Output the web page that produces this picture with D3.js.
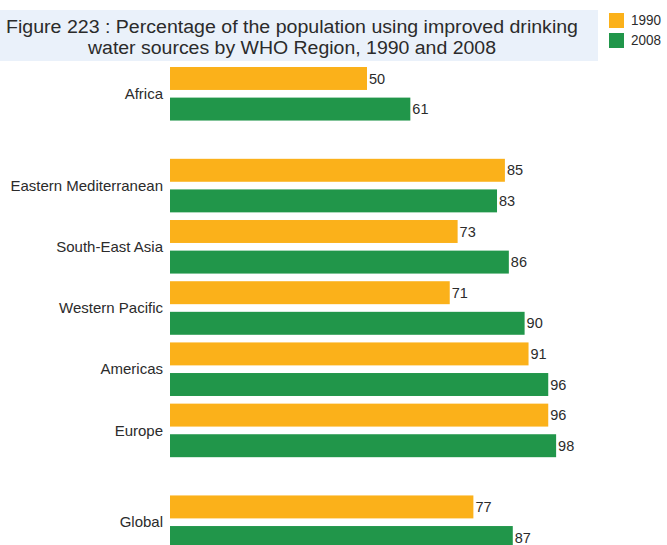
<!DOCTYPE html>
<html>
<head>
<meta charset="utf-8">
<script src="https://cdn.jsdelivr.net/npm/d3@7"></script>
<style>
  html, body { margin: 0; padding: 0; background: #fff; }
  svg { display: block; font-family: "Liberation Sans", Arial, sans-serif; }
</style>
</head>
<body>
<svg id="chart" width="667" height="545"></svg>
<script>
const regions = ["Africa", "Eastern Mediterranean", "South-East Asia", "Western Pacific", "Americas", "Europe", "Global"];
const values1990 = [50, 85, 73, 71, 91, 96, 77];
const values2008 = [61, 83, 86, 90, 96, 98, 87];
const years = ["1990", "2008"];
const titleLines = ["Figure 223 : Percentage of the population using improved drinking", "water sources by WHO Region, 1990 and 2008"];
// a blank slot separates Africa and Global from the other regions
const spacerAfter = ["Africa", "Europe"];

const colors = { "1990": "#FBB11A", "2008": "#21964A" };
const textColor = "#2b2b2b";

const svg = d3.select("#chart");

const slots = [];
regions.forEach(r => {
  slots.push(r + "|1990");
  slots.push(r + "|2008");
  if (spacerAfter.includes(r)) slots.push("spacer|" + r);
});

const data = [];
regions.forEach((r, i) => {
  data.push({ region: r, year: "1990", value: values1990[i] });
  data.push({ region: r, year: "2008", value: values2008[i] });
});

const x = d3.scaleLinear().domain([0, 100]).range([170, 564]);
const y = d3.scaleBand().domain(slots).range([67, 549]).paddingInner(0.25).paddingOuter(0);

// title box
svg.append("rect").attr("x", 0).attr("y", 10).attr("width", 598).attr("height", 51).attr("fill", "#EAF1FA");
svg.append("text").attr("x", 292).attr("y", 32.5).attr("text-anchor", "middle")
  .attr("font-size", 18).attr("fill", textColor)
  .attr("textLength", 572).attr("lengthAdjust", "spacingAndGlyphs")
  .text(titleLines[0]);
svg.append("text").attr("x", 292).attr("y", 53.5).attr("text-anchor", "middle")
  .attr("font-size", 18).attr("fill", textColor)
  .attr("textLength", 408).attr("lengthAdjust", "spacingAndGlyphs")
  .text(titleLines[1]);

// legend
const leg = svg.append("g");
years.forEach((yr, i) => {
  leg.append("rect").attr("x", 609).attr("y", 13 + i * 20).attr("width", 15).attr("height", 15).attr("fill", colors[yr]);
  leg.append("text").attr("x", 631).attr("y", 20.5 + i * 20).attr("dy", "0.35em")
    .attr("font-size", 14).attr("fill", textColor)
    .attr("textLength", 30).attr("lengthAdjust", "spacingAndGlyphs")
    .text(yr);
});

// bars
svg.append("g").selectAll("rect").data(data).join("rect")
  .attr("x", x(0))
  .attr("y", d => y(d.region + "|" + d.year))
  .attr("width", d => x(d.value) - x(0))
  .attr("height", y.bandwidth())
  .attr("fill", d => colors[d.year]);

// value labels
svg.append("g").selectAll("text").data(data).join("text")
  .attr("x", d => x(d.value) + 2)
  .attr("y", d => y(d.region + "|" + d.year) + y.bandwidth() / 2)
  .attr("dy", "0.35em")
  .attr("font-size", 14.5).attr("fill", textColor)
  .text(d => d.value);

// category labels
svg.append("g").selectAll("text").data(regions).join("text")
  .attr("x", 163)
  .attr("y", r => (y(r + "|1990") + y(r + "|2008") + y.bandwidth()) / 2)
  .attr("dy", "0.35em")
  .attr("text-anchor", "end")
  .attr("font-size", 15).attr("fill", textColor)
  .text(r => r);
</script>
</body>
</html>
